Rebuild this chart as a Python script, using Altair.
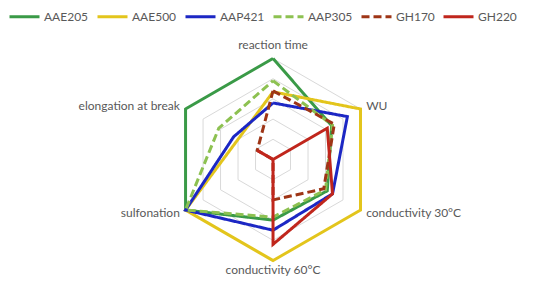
import altair as alt
import pandas as pd

# ---- data ----
axis_labels = ["reaction time", "WU", "conductivity 30°C", "conductivity 60°C",
               "sulfonation", "elongation at break"]
series_names = ["AAE205", "AAE500", "AAP421", "AAP305", "GH170", "GH220"]
aae205 = [1.00, 0.67, 0.62, 0.60, 1.00, 1.00]
aae500 = [0.67, 1.00, 1.00, 1.00, 1.00, 0.40]
aap421 = [0.56, 0.85, 0.68, 0.70, 1.00, 0.45]
aap305 = [0.78, 0.68, 0.60, 0.57, 1.00, 0.62]
gh170 = [0.68, 0.70, 0.58, 0.40, 0.00, 0.18]
gh220 = [0.00, 0.62, 0.68, 0.84, 0.00, 0.18]
grid_levels = [0.2, 0.4, 0.6, 0.8, 1.0]

colors = ["#3A9A47", "#E3C51C", "#1C27C4", "#8DC151", "#9E3516", "#C0261C"]
dashes = [[1, 0], [1, 0], [1, 0], [8, 4], [8, 4], [1, 0]]

n_axes = len(axis_labels)
all_values = [aae205, aae500, aap421, aap305, gh170, gh220]

rows = []
for name, vals in zip(series_names, all_values):
    closed = list(vals) + [vals[0]]
    for i, v in enumerate(closed):
        rows.append({"series": name, "idx": i, "value": v})
series_df = pd.DataFrame(rows)

grid_rows = []
for lev in grid_levels:
    for i in range(n_axes + 1):
        grid_rows.append({"level": lev, "idx": i, "value": lev})
grid_df = pd.DataFrame(grid_rows)

label_df = pd.DataFrame({"label": axis_labels, "idx": list(range(n_axes))})

FONT = "Lato"
TXT = "#595959"

xscale = alt.Scale(domain=[-2.624, 2.663], nice=False, zero=False)
yscale = alt.Scale(domain=[-1.183, 1.5], nice=False, zero=False)


def to_xy(ch, rexpr="datum.value"):
    return ch.transform_calculate(
        ang=f"datum.idx * 2 * PI / {n_axes}"
    ).transform_calculate(
        px=f"{rexpr} * sin(datum.ang)",
        py=f"{rexpr} * cos(datum.ang)",
    )


X = alt.X("px:Q", scale=xscale, axis=None)
Y = alt.Y("py:Q", scale=yscale, axis=None)

grid = to_xy(alt.Chart(grid_df)).mark_line(
    color="#D9D9D9", strokeWidth=1
).encode(x=X, y=Y, detail="level:N", order="idx:Q")

legend_cfg = dict(
    orient="none", legendX=0, legendY=-8, direction="horizontal", title=None,
    padding=0, offset=0,
    symbolType="stroke", symbolStrokeWidth=3, symbolSize=900,
    labelFont=FONT, labelFontSize=12, labelColor=TXT, labelOffset=3,
    columnPadding=2, columns=6,
)

lines = to_xy(alt.Chart(series_df)).mark_line(
    strokeWidth=3, strokeJoin="miter", strokeCap="butt"
).encode(
    x=X, y=Y,
    color=alt.Color("series:N", scale=alt.Scale(domain=series_names, range=colors),
                    legend=alt.Legend(**legend_cfg)),
    strokeDash=alt.StrokeDash("series:N",
                              scale=alt.Scale(domain=series_names, range=dashes),
                              legend=alt.Legend(**legend_cfg)),
    detail="series:N",
    order="idx:Q",
)

text_props = dict(font=FONT, fontSize=12, color=TXT)

lab_top = to_xy(alt.Chart(label_df), rexpr="1.065").transform_filter(
    "cos(datum.ang) > 0.9").mark_text(
    align="center", baseline="bottom", **text_props).encode(x=X, y=Y, text="label:N")
lab_bot = to_xy(alt.Chart(label_df), rexpr="1.04").transform_filter(
    "cos(datum.ang) < -0.9").mark_text(
    align="center", baseline="top", **text_props).encode(x=X, y=Y, text="label:N")
lab_right = to_xy(alt.Chart(label_df), rexpr="1.065").transform_filter(
    "sin(datum.ang) > 0.1").mark_text(
    align="left", baseline="middle", **text_props).encode(x=X, y=Y, text="label:N")
lab_left = to_xy(alt.Chart(label_df), rexpr="1.065").transform_filter(
    "sin(datum.ang) < -0.1").mark_text(
    align="right", baseline="middle", **text_props).encode(x=X, y=Y, text="label:N")

chart = alt.layer(grid, lines, lab_top, lab_bot, lab_right, lab_left).properties(
    width=534, height=271,
    autosize=alt.AutoSizeParams(type="none"),
    padding=0,
    background="white",
).configure_view(stroke=None)

chart.save("out.html", embed_options={"renderer": "svg", "actions": False})
